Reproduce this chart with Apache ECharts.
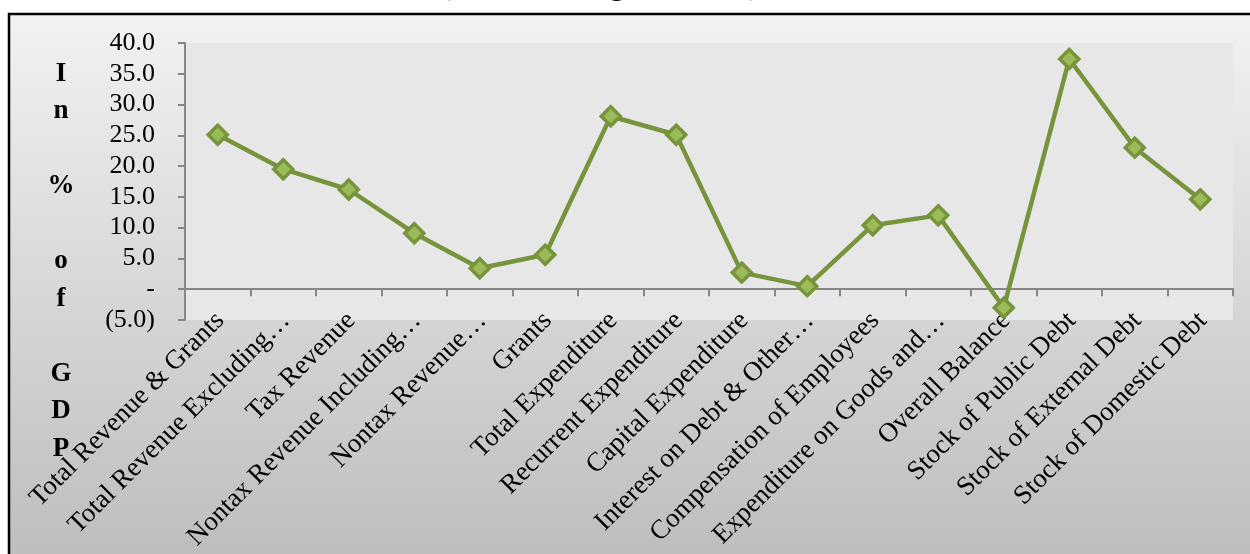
<!DOCTYPE html>
<html>

	<head>
		<meta charset="UTF-8">
		<title>fiscal</title>
		<script src="https://cdn.jsdelivr.net/npm/echarts@6/dist/echarts.min.js"></script>
		<style>
			html,
			body {
				margin: 0;
				padding: 0;
				background: #fff;
			}
			
			#chart {
				width: 1250px;
				height: 554px;
			}
		</style>
	</head>

	<body>
		<div id="chart"></div>

		<script>
			var categories = ['Total Revenue & Grants', 'Total Revenue Excluding…', 'Tax Revenue', 'Nontax Revenue Including…',
				'Nontax Revenue…', 'Grants', 'Total Expenditure', 'Recurrent Expenditure', 'Capital Expenditure',
				'Interest on Debt & Other…', 'Compensation of Employees', 'Expenditure on Goods and…', 'Overall Balance',
				'Stock of Public Debt', 'Stock of External Debt', 'Stock of Domestic Debt'
			];
			var values = [25.1, 19.5, 16.2, 9.1, 3.4, 5.6, 28.1, 25.1, 2.7, 0.5, 10.4, 12.0, -3.0, 37.4, 23.0, 14.6];
			var yTicks = [-5, 0, 5, 10, 15, 20, 25, 30, 35, 40];
			var yTitle = 'I\nn\n\n%\n\no\nf\n\nG\nD\nP';
			var chartTitle = '(In Percentage of GDP)';

			var serif = '"Liberation Serif", "Times New Roman", serif';

			//会计格式: 0 显示为 -, 负数加括号
			function fmt(v) {
				if(v == 0) return '-';
				if(v < 0) return '(' + Math.abs(v).toFixed(1) + ')';
				return v.toFixed(1);
			}

			var myChart = echarts.init(document.getElementById('chart'));
			var option = {
				animation: false,
				backgroundColor: '#ffffff',
				graphic: [{
						type: 'rect',
						z: -10,
						shape: { x: 9, y: 14, width: 1300, height: 600 },
						style: {
							fill: new echarts.graphic.LinearGradient(0, 0, 0, 1, [
								{ offset: 0, color: '#f2f2f2' },
								{ offset: 1, color: '#b8b8b8' }
							]),
							stroke: '#000',
							lineWidth: 2.5
						}
					},
					{
						type: 'text',
						style: {
							text: chartTitle,
							x: 600,
							y: -14,
							align: 'center',
							verticalAlign: 'middle',
							font: 'bold 32px ' + serif,
							fill: '#000'
						}
					},
					{
						type: 'text',
						style: {
							text: yTitle,
							x: 61,
							y: 55,
							align: 'center',
							verticalAlign: 'top',
							lineHeight: 37.5,
							font: 'bold 27px ' + serif,
							fill: '#000'
						}
					}
				],
				grid: {
					left: 185,
					right: 17,
					top: 43,
					bottom: 234,
					outerBoundsMode: 'none',
					containLabel: false,
					show: true,
					backgroundColor: '#e7e7e7',
					borderWidth: 0
				},
				xAxis: {
					type: 'category',
					data: categories,
					boundaryGap: true,
					axisLine: {
						onZero: true,
						lineStyle: { color: '#868686', width: 2 }
					},
					axisTick: {
						show: true,
						length: 7,
						lineStyle: { color: '#868686', width: 2 }
					},
					axisLabel: {
						interval: 0,
						rotate: 45,
						margin: -20,
						padding: [0, 10, 0, 0],
						verticalAlign: 'top',
						color: '#000',
						fontFamily: serif,
						fontSize: 27
					}
				},
				yAxis: {
					type: 'value',
					min: yTicks[0],
					max: yTicks[yTicks.length - 1],
					interval: 5,
					splitLine: { show: false },
					axisLine: {
						show: true,
						lineStyle: { color: '#868686', width: 2 }
					},
					axisTick: {
						show: true,
						length: 7,
						lineStyle: { color: '#868686', width: 2 }
					},
					axisLabel: {
						margin: 30,
						color: '#000',
						fontFamily: serif,
						fontSize: 26,
						formatter: fmt
					}
				},
				series: [{
					type: 'line',
					data: values,
					symbol: 'diamond',
					symbolSize: 19,
					lineStyle: { color: '#77933c', width: 4.5 },
					itemStyle: {
						color: '#9bbb59',
						borderColor: '#77933c',
						borderWidth: 3.5
					}
				}]
			};
			myChart.setOption(option);
		</script>
	</body>

</html>
